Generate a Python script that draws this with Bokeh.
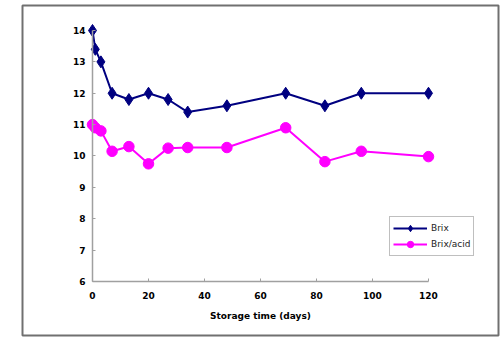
from bokeh.plotting import figure
from bokeh.models import Range1d, Legend, LegendItem, BoxAnnotation
from bokeh.embed import file_html
from bokeh.resources import INLINE

# Storage time (days) and measured values
days = [0, 1, 3, 7, 13, 20, 27, 34, 48, 69, 83, 96, 120]
brix = [14.0, 13.4, 13.0, 12.0, 11.8, 12.0, 11.8, 11.4, 11.6, 12.0, 11.6, 12.0, 12.0]
brix_acid = [11.0, 10.9, 10.8, 10.15, 10.3, 9.75, 10.25, 10.27, 10.27, 10.9, 9.82, 10.15, 9.98]

x_ticks = [0, 20, 40, 60, 80, 100, 120]
y_ticks = [6, 7, 8, 9, 10, 11, 12, 13, 14]

FONT = "DejaVu Sans"
W, H = 502, 338

# The plotting frame fills the whole canvas; axes sit at fixed data positions
p = figure(width=W, height=H,
           x_range=Range1d(-32.86, 146.43), y_range=Range1d(4.183, 14.956),
           output_backend="svg", toolbar_location=None,
           min_border=0, min_border_left=0, min_border_right=0,
           min_border_top=0, min_border_bottom=0)
p.grid.visible = False
p.outline_line_color = None
p.background_fill_color = "white"
p.border_fill_color = "white"

navy = "#000080"
magenta = "#FF00FF"

l1 = p.line(days, brix, line_color=navy, line_width=2)
m1 = p.scatter(days, brix, marker="diamond", size=12,
               fill_color=navy, line_color=navy)
l2 = p.line(days, brix_acid, line_color=magenta, line_width=2)
m2 = p.scatter(days, brix_acid, marker="circle", size=10.5,
               fill_color=magenta, line_color=magenta)

for ax in (p.xaxis[0], p.yaxis[0]):
    ax.axis_line_color = "#a0a0a0"
    ax.axis_line_width = 1.5
    ax.major_tick_line_color = "#a0a0a0"
    ax.major_tick_in = 3
    ax.major_tick_out = 0
    ax.minor_tick_line_color = None
    ax.major_label_text_font = FONT
    ax.major_label_text_font_style = "bold"
    ax.major_label_text_font_size = "9px"
    ax.major_label_text_color = "black"

p.xaxis.ticker = x_ticks
p.yaxis.ticker = y_ticks
p.xaxis.bounds = (0, 120)
p.yaxis.bounds = (6, 14)
p.yaxis.fixed_location = 0
p.xaxis.fixed_location = 6
p.yaxis.major_label_standoff = 7
p.xaxis.major_label_standoff = 11

p.xaxis.axis_label = "Storage time (days)"
p.xaxis.axis_label_text_font = FONT
p.xaxis.axis_label_text_font_style = "bold"
p.xaxis.axis_label_text_font_size = "9px"
p.xaxis.axis_label_text_color = "black"
p.xaxis.axis_label_standoff = 8

legend = Legend(items=[LegendItem(label="Brix", renderers=[l1, m1]),
                       LegendItem(label="Brix/acid", renderers=[l2, m2])],
                location=(389, 82))
legend.label_text_font = FONT
legend.label_text_font_size = "9px"
legend.label_text_color = "#222222"
legend.border_line_color = "#808080"
legend.border_line_width = 1
legend.padding = 3
legend.spacing = 0
legend.margin = 0
legend.glyph_width = 34
legend.glyph_height = 16
legend.label_height = 16
legend.label_standoff = 4
p.add_layout(legend, "center")

# Outer chart border
frame_box = BoxAnnotation(left=22, right=498, top=5, bottom=335,
                          left_units="canvas", right_units="canvas",
                          top_units="canvas", bottom_units="canvas",
                          fill_alpha=0, line_color="#707070", line_alpha=1.0,
                          line_width=2)
p.add_layout(frame_box)

open("out.html", "w").write(file_html(p, INLINE))
